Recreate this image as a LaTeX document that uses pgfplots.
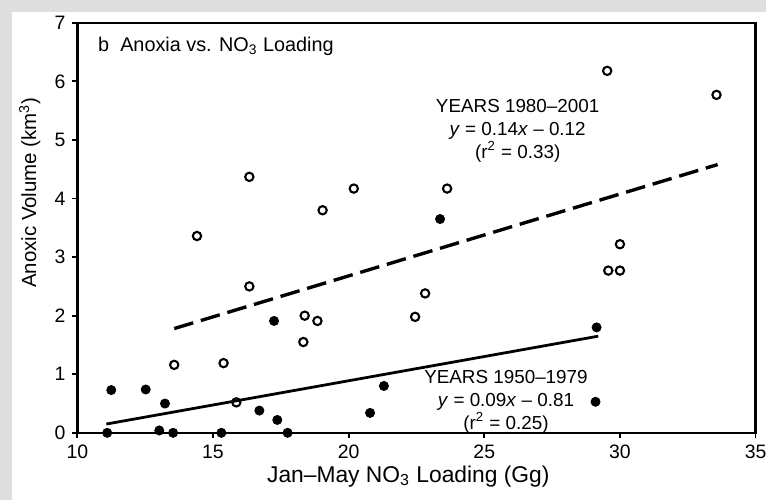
\documentclass[border=0pt]{standalone}
\usepackage{pgfplots}
\pgfplotsset{compat=1.18}
\usepackage{fontspec}
\setmainfont{Liberation Sans}
\begin{document}
\begin{tikzpicture}
\fill[black!13] (-39pt,-33.75pt) rectangle (347.5pt,218.25pt);
\fill[white] (-33pt,-33.75pt) rectangle (347.5pt,212.25pt);
\begin{axis}[
  scale only axis, width=342pt, height=206.75pt,
  xmin=10, xmax=35, ymin=0, ymax=7,
  xtick={10,15,20,25,30,35}, ytick={0,1,2,3,4,5,6,7},
  axis line style={line width=1.2pt},
  tick style={line width=0.9pt, black},
  tick align=outside, major tick length=2.5pt,
  tick pos=left,
  /pgf/number format/assume math mode=true,
  tick label style={font=\fontsize{9.8}{11}\selectfont},
  xlabel={Jan–May NO\textsubscript{3} Loading (Gg)},
  ylabel={Anoxic Volume (km\textsuperscript{3})},
  xlabel style={font=\fontsize{11.5}{13}\selectfont, at={(axis description cs:0.488,-0.1064)}, anchor=center},
  ylabel style={font=\fontsize{10.3}{12}\selectfont, at={(axis description cs:-0.0702,0.586)}, anchor=center},
  clip=false,
]
% 1980-2001 (open)
\addplot[only marks, mark=o, mark size=2.1pt, mark options={line width=1.05pt, fill=white, draw=black}] coordinates {
(14.41,3.36) (16.34,4.37) (19.04,3.80) (20.19,4.17) (29.53,6.18) (33.56,5.77)
(23.63,4.17) (30.00,3.22) (29.57,2.77) (30.00,2.77) (22.82,2.38) (22.45,1.98)
(16.34,2.50) (18.38,2.00) (18.85,1.91) (18.33,1.55) (13.57,1.16) (15.39,1.19) (15.86,0.52)
};
% 1950-1979 (filled)
\addplot[only marks, mark=*, mark size=2.3pt, mark options={fill=black, draw=black}] coordinates {
(11.25,0.73) (12.52,0.74) (13.23,0.50) (11.10,0.00) (13.02,0.04) (13.53,0.00)
(15.31,0.00) (16.71,0.38) (17.37,0.22) (17.75,0.00) (17.25,1.91) (20.79,0.34)
(21.30,0.80) (23.37,3.65) (29.14,1.80) (29.10,0.53)
};
% regression lines
\addplot[black, line width=1.7pt, dash pattern=on 10pt off 4pt] coordinates {(13.57,1.78) (33.6,4.58)};
\addplot[black, line width=1.4pt] coordinates {(11.07,0.15) (29.2,1.65)};
% annotations
\node[anchor=west, font=\fontsize{10}{12}\selectfont, xshift=7pt, yshift=-12pt] at (rel axis cs:0,1) {b\ \ Anoxia vs. NO\textsubscript{3} Loading};
\node[align=center, font=\fontsize{9.5}{11.5}\selectfont] at (axis cs:26.23,5.16) {YEARS 1980–2001\\\textit{y} = 0.14\textit{x} – 0.12\\(r\textsuperscript{2} = 0.33)};
\node[align=center, font=\fontsize{9.5}{11.5}\selectfont] at (axis cs:25.8,0.525) {YEARS 1950–1979\\\textit{y} = 0.09\textit{x} – 0.81\\(r\textsuperscript{2} = 0.25)};
\end{axis}
\end{tikzpicture}
\end{document}
